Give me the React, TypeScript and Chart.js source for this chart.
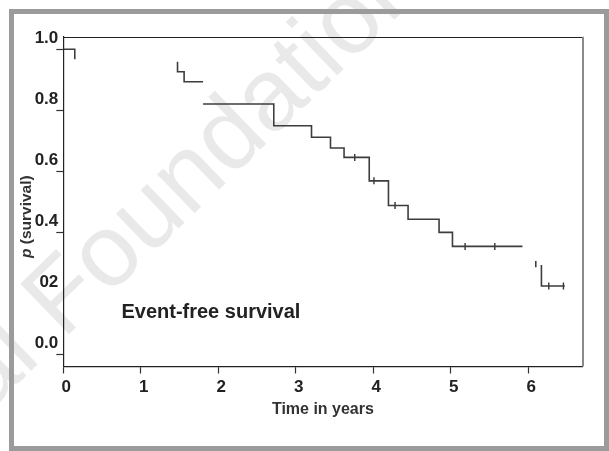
import React, { useEffect, useRef } from "react";
import { Chart, registerables } from "chart.js";

Chart.register(...registerables);

// Kaplan-Meier curve (time in years, survival probability); null marks a break in the drawn curve
const curveTimes: (number | null)[] = [0, 0.148, null, 1.474, 1.474, 1.559, 1.804, null, 1.804, 2.716, 3.203, 3.448, 3.623, 3.948, 4.196, 4.449, 4.849, 5.022, 5.925, null, 6.097, 6.097, null, 6.17, 6.17, 6.471];
const curveSurvival: (number | null)[] = [1.0, 0.967, null, 0.959, 0.926, 0.893, 0.893, null, 0.82, 0.749, 0.711, 0.676, 0.645, 0.568, 0.487, 0.442, 0.399, 0.353, 0.353, null, 0.305, 0.285, null, 0.292, 0.223, 0.223];

// Censored observations
const censorTimes = [3.761, 4.009, 4.281, 5.185, 5.568, 6.265, 6.454];
const censorSurvival = [0.645, 0.568, 0.487, 0.353, 0.353, 0.223, 0.223];

const xTickLabels = ["0", "1", "2", "3", "4", "5", "6"];
const yTickLabels = ["0.0", "02", "0.4", "0.6", "0.8", "1.0"];
const xTitle = "Time in years";
const yTitleItalic = "p";
const yTitleRest = " (survival)";
const annotationText = "Event-free survival";
const watermarkText = "Foundation";
const watermarkPrefix = "al ";

const FONT = "'Liberation Sans', Arial, Helvetica, sans-serif";

const decorPlugin = {
  id: "decor",
  beforeDraw(chart: any) {
    const ctx = chart.ctx;
    ctx.save();
    ctx.fillStyle = "#ffffff";
    ctx.fillRect(0, 0, chart.width, chart.height);
    // watermark
    ctx.save();
    ctx.translate(63, 340);
    ctx.rotate((-44 * Math.PI) / 180);
    ctx.font = `102px ${FONT}`;
    ctx.fillStyle = "#e9e9e9";
    ctx.textBaseline = "alphabetic";
    const pre = ctx.measureText(watermarkPrefix).width;
    ctx.fillText(watermarkPrefix + watermarkText, -pre, 0);
    ctx.restore();
    // outer grey frame
    ctx.strokeStyle = "#9b9b9b";
    ctx.lineWidth = 5;
    ctx.strokeRect(11.5, 11.5, 595, 437);
    ctx.restore();
  },
  afterDraw(chart: any) {
    const ctx = chart.ctx;
    const a = chart.chartArea;
    ctx.save();
    // top and right frame lines
    ctx.strokeStyle = "#222";
    ctx.lineWidth = 1.2;
    ctx.beginPath();
    ctx.moveTo(a.left, Math.round(a.top) + 0.5);
    ctx.lineTo(a.right, Math.round(a.top) + 0.5);
    ctx.stroke();
    ctx.strokeStyle = "#8a8a8a";
    ctx.lineWidth = 2;
    ctx.beginPath();
    ctx.moveTo(Math.round(a.right), a.top);
    ctx.lineTo(Math.round(a.right), a.bottom);
    ctx.stroke();

    // y axis title with italic p
    ctx.save();
    ctx.translate(31, 258);
    ctx.rotate(-Math.PI / 2);
    ctx.fillStyle = "#333";
    ctx.textBaseline = "alphabetic";
    ctx.textAlign = "left";
    ctx.font = `italic bold 15.5px ${FONT}`;
    ctx.fillText(yTitleItalic, 0, 0);
    const w = ctx.measureText(yTitleItalic).width;
    ctx.font = `bold 15.5px ${FONT}`;
    ctx.fillText(yTitleRest, w, 0);
    ctx.restore();

    // annotation
    const xs = chart.scales.x;
    const ys = chart.scales.y;
    ctx.font = `bold 20px ${FONT}`;
    ctx.fillStyle = "#222";
    ctx.textAlign = "left";
    ctx.textBaseline = "alphabetic";
    ctx.fillText(annotationText, xs.getPixelForValue(0.75), ys.getPixelForValue(0.117));
    ctx.restore();
  },
};

export default function App() {
  const ref = useRef<HTMLCanvasElement>(null);

  useEffect(() => {
    const canvas = ref.current;
    if (!canvas) return;
    const curveData = curveTimes.map((t, i) => ({ x: t, y: curveSurvival[i] }));
    const censorData = censorTimes.map((t, i) => ({ x: t, y: censorSurvival[i] }));

    const chart = new Chart(canvas, {
      type: "line",
      data: {
        datasets: [
          {
            data: curveData as any,
            borderColor: "#3d3d3d",
            borderWidth: 1.6,
            stepped: "before",
            pointRadius: 0,
            spanGaps: false,
            fill: false,
          },
          {
            data: censorData as any,
            showLine: false,
            pointStyle: "line",
            rotation: 90,
            pointRadius: 3.5,
            pointBorderWidth: 1.4,
            pointBorderColor: "#333",
            pointBackgroundColor: "#333",
            borderColor: "#333",
          } as any,
        ],
      },
      options: {
        animation: false,
        responsive: false,
        devicePixelRatio: 1,
        events: [],
        layout: { padding: { left: 0, top: 36.7, right: 26.5, bottom: 0 } },
        plugins: { legend: { display: false }, tooltip: { enabled: false }, title: { display: false } },
        scales: {
          x: {
            type: "linear",
            min: 0,
            max: 6.7,
            afterFit: (s: any) => {
              s.height = 84.5;
            },
            ticks: {
              stepSize: 1,
              includeBounds: false,
              autoSkip: false,
              maxRotation: 0,
              padding: 4,
              labelOffset: 3,
              color: "#222",
              font: { family: FONT, size: 17, weight: "bold" },
              callback: (v: any) => xTickLabels[Math.round(Number(v))] ?? "",
            },
            grid: {
              display: true,
              drawOnChartArea: false,
              drawTicks: true,
              tickLength: 7,
              tickColor: "#333",
              tickWidth: 1.2,
            },
            border: { display: true, color: "#222", width: 1.2 },
            title: {
              display: true,
              text: xTitle,
              color: "#333",
              font: { family: FONT, size: 16, weight: "bold" },
              padding: { top: 0, bottom: 32 },
            },
          } as any,
          y: {
            type: "linear",
            min: -0.041,
            max: 1.041,
            afterFit: (s: any) => {
              s.width = 63.3;
            },
            ticks: {
              stepSize: 0.2,
              includeBounds: false,
              autoSkip: false,
              padding: -2,
              labelOffset: -11,
              crossAlign: "near",
              color: "#222",
              font: { family: FONT, size: 17, weight: "bold" },
              callback: (v: any) => yTickLabels[Math.round(Number(v) / 0.2)] ?? "",
            },
            grid: {
              display: true,
              drawOnChartArea: false,
              drawTicks: true,
              tickLength: 7,
              tickWidth: 1.2,
              tickColor: (c: any) =>
                c.tick && Math.abs(c.tick.value - 0.2) < 1e-6 ? "rgba(0,0,0,0)" : "#333",
            },
            border: { display: true, color: "#222", width: 1.2 },
          } as any,
        },
      },
      plugins: [decorPlugin],
    });
    return () => chart.destroy();
  }, []);

  return (
    <div style={{ position: "fixed", left: 0, top: 0, width: 609, height: 451, background: "#fff" }}>
      <canvas ref={ref} width={609} height={451} style={{ display: "block", width: 609, height: 451 }} />
    </div>
  );
}
